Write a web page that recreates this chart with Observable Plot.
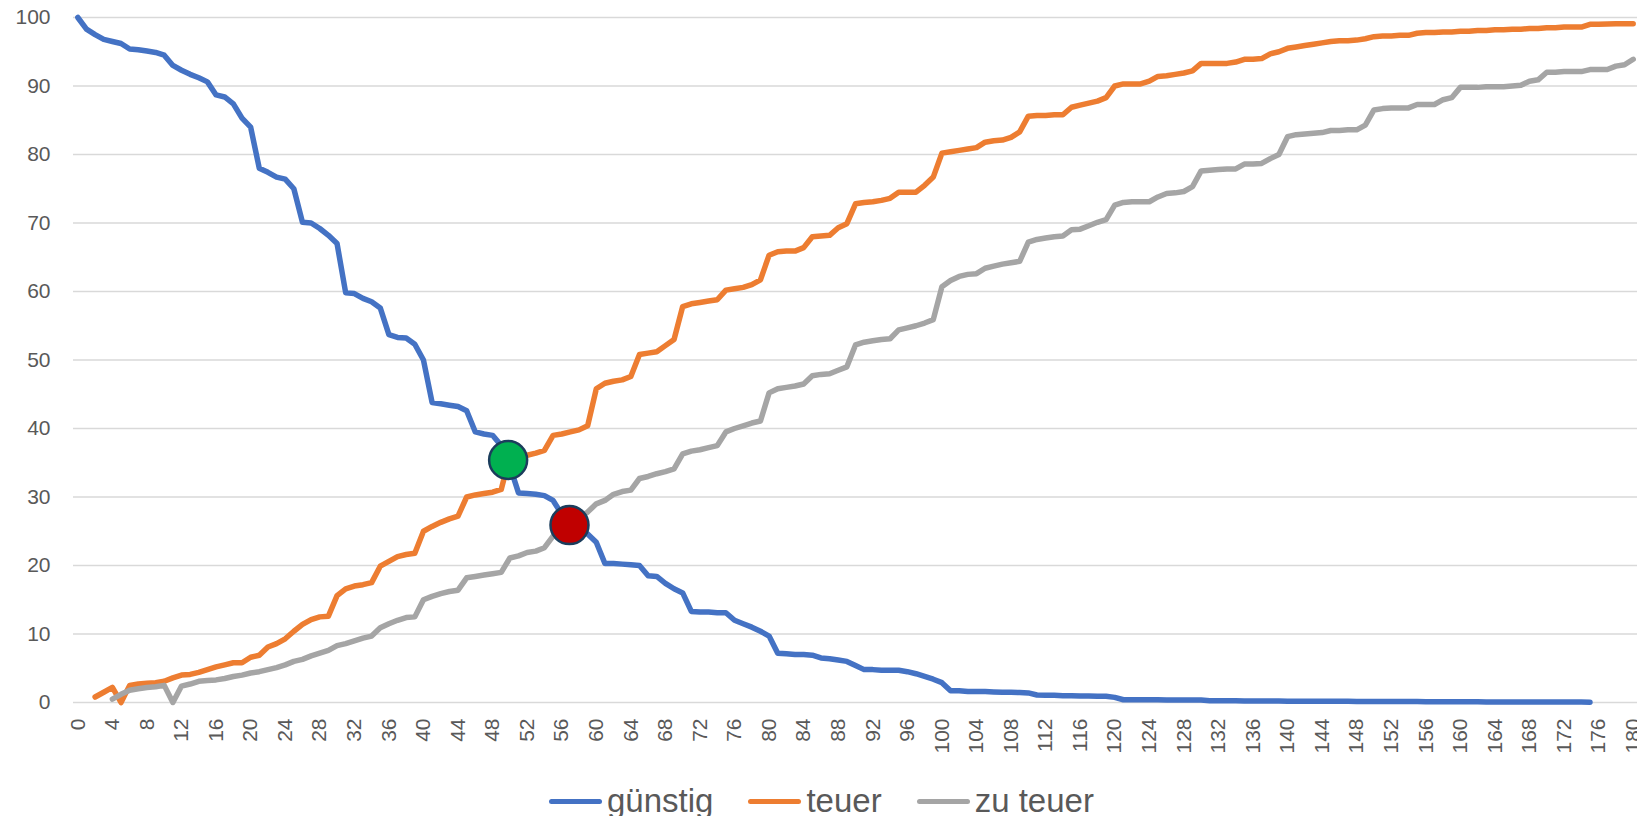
<!DOCTYPE html>
<html>
<head>
<meta charset="utf-8">
<script src="https://cdn.jsdelivr.net/npm/d3@7"></script>
<script src="https://cdn.jsdelivr.net/npm/@observablehq/plot@0.6"></script>
<style>
  html, body { margin: 0; padding: 0; background: #fff; overflow: hidden; }
  #chart svg { display: block; }
  #legend { display: flex; align-items: center; height: 56px; padding-top: 13px; padding-left: 549px;
            font-family: "Liberation Sans", Arial, sans-serif; font-size: 33px; color: #595959; line-height: 56px; }
  .item { display: flex; align-items: center; }
  .swatch { width: 53px; height: 5px; border-radius: 3px; margin-right: 5px; }
  .label { margin-right: 35px; }
</style>
</head>
<body>
<div id="chart"></div>
<div id="legend"></div>
<script>
const seriesNames = ["günstig", "teuer", "zu teuer"];

const guenstig = [
  100, 98.3, 97.5, 96.8, 96.5, 96.2, 95.4, 95.3, 95.1, 94.9,
  94.5, 93, 92.3, 91.7, 91.2, 90.6, 88.7, 88.4, 87.4, 85.3,
  84, 78, 77.4, 76.7, 76.4, 75, 70.1, 70, 69.2, 68.2,
  67, 59.8, 59.7, 59, 58.5, 57.6, 53.7, 53.3, 53.2, 52.3,
  50, 43.8, 43.6, 43.4, 43.2, 42.6, 39.5, 39.2, 39, 37.5,
  34.5, 30.6, 30.5, 30.4, 30.2, 29.5, 27.5, 26, 25.3, 24.6,
  23.4, 20.3, 20.3, 20.2, 20.1, 20, 18.5, 18.4, 17.4, 16.6,
  16, 13.3, 13.2, 13.2, 13.1, 13.1, 12, 11.5, 11, 10.4,
  9.7, 7.2, 7.1, 7, 7, 6.9, 6.5, 6.4, 6.2, 6,
  5.4, 4.8, 4.8, 4.7, 4.7, 4.7, 4.5, 4.2, 3.8, 3.4,
  2.9, 1.7, 1.7, 1.6, 1.6, 1.6, 1.55, 1.5, 1.5, 1.45,
  1.4, 1.1, 1.05, 1.05, 1, 1, 0.95, 0.95, 0.9, 0.9,
  0.75, 0.4, 0.4, 0.4, 0.4, 0.4, 0.38, 0.37, 0.36, 0.35,
  0.35, 0.25, 0.25, 0.24, 0.24, 0.23, 0.23, 0.22, 0.22, 0.21,
  0.2, 0.2, 0.19, 0.19, 0.18, 0.18, 0.17, 0.17, 0.16, 0.16,
  0.15, 0.15, 0.14, 0.14, 0.13, 0.13, 0.12, 0.12, 0.11, 0.11,
  0.1, 0.1, 0.1, 0.09, 0.09, 0.09, 0.08, 0.08, 0.08, 0.07,
  0.07, 0.07, 0.06, 0.06, 0.06, 0.05
];

const teuer = [
  null, null, 0.8, 1.5, 2.2, 0, 2.5, 2.7, 2.8, 2.9,
  3.1, 3.6, 4, 4.1, 4.4, 4.8, 5.2, 5.5, 5.8, 5.8,
  6.6, 6.9, 8.1, 8.6, 9.3, 10.4, 11.4, 12.1, 12.5, 12.6,
  15.6, 16.6, 17, 17.2, 17.5, 19.9, 20.6, 21.3, 21.6, 21.8,
  25, 25.7, 26.3, 26.8, 27.2, 30, 30.3, 30.5, 30.7, 31.1,
  36, 36.1, 36.1, 36.4, 36.8, 39, 39.2, 39.5, 39.8, 40.4,
  45.8, 46.6, 46.9, 47.1, 47.6, 50.8, 51, 51.2, 52.1, 53,
  57.8, 58.2, 58.4, 58.6, 58.8, 60.2, 60.4, 60.6, 61, 61.7,
  65.3, 65.8, 65.9, 65.9, 66.4, 68, 68.1, 68.2, 69.3, 69.9,
  72.8, 73, 73.1, 73.3, 73.6, 74.5, 74.5, 74.5, 75.5, 76.7,
  80.2, 80.4, 80.6, 80.8, 81, 81.8, 82, 82.1, 82.5, 83.3,
  85.6, 85.7, 85.7, 85.8, 85.8, 86.9, 87.2, 87.5, 87.8, 88.3,
  90, 90.3, 90.3, 90.3, 90.7, 91.4, 91.5, 91.7, 91.9, 92.2,
  93.3, 93.3, 93.3, 93.3, 93.5, 93.9, 93.9, 94, 94.7, 95,
  95.5, 95.7, 95.9, 96.1, 96.3, 96.5, 96.6, 96.6, 96.7, 96.9,
  97.2, 97.3, 97.3, 97.4, 97.4, 97.7, 97.8, 97.8, 97.9, 97.9,
  98, 98, 98.1, 98.1, 98.2, 98.2, 98.3, 98.3, 98.4, 98.4,
  98.5, 98.5, 98.6, 98.6, 98.6, 99, 99, 99.05, 99.1, 99.1, 99.1
];

const zuTeuer = [
  null, null, null, null, 0.5, 1.2, 1.8, 2, 2.2, 2.3,
  2.5, 0, 2.4, 2.7, 3.1, 3.2, 3.3, 3.5, 3.8, 4,
  4.3, 4.5, 4.8, 5.1, 5.5, 6, 6.3, 6.8, 7.2, 7.6,
  8.3, 8.6, 9, 9.4, 9.7, 10.9, 11.5, 12, 12.4, 12.5,
  15, 15.5, 15.9, 16.2, 16.4, 18.2, 18.4, 18.6, 18.8, 19,
  21.1, 21.4, 21.9, 22.1, 22.6, 24.3, 25.2, 26.2, 27, 27.8,
  29, 29.5, 30.4, 30.8, 31, 32.7, 33, 33.4, 33.7, 34.1,
  36.3, 36.7, 36.9, 37.2, 37.5, 39.5, 40, 40.4, 40.8, 41.1,
  45.2, 45.8, 46, 46.2, 46.5, 47.7, 47.9, 48, 48.5, 49,
  52.2, 52.6, 52.8, 53, 53.1, 54.4, 54.7, 55, 55.4, 55.9,
  60.7, 61.6, 62.2, 62.5, 62.6, 63.4, 63.7, 64, 64.2, 64.4,
  67.2, 67.6, 67.8, 68, 68.1, 69, 69.1, 69.6, 70.1, 70.5,
  72.6, 73, 73.1, 73.1, 73.1, 73.8, 74.3, 74.4, 74.6, 75.3,
  77.6, 77.7, 77.8, 77.9, 77.9, 78.6, 78.6, 78.7, 79.4, 80,
  82.6, 82.9, 83, 83.1, 83.2, 83.5, 83.5, 83.6, 83.6, 84.3,
  86.5, 86.7, 86.8, 86.8, 86.8, 87.3, 87.3, 87.3, 88, 88.3,
  89.8, 89.8, 89.8, 89.9, 89.9, 89.9, 90, 90.1, 90.7, 90.9,
  92, 92, 92.1, 92.1, 92.1, 92.4, 92.4, 92.4, 92.9, 93.1, 93.9
];

// intersection markers (price, percent)
const markerNames = ["günstig × teuer", "günstig × zu teuer"];
const markerX = [49.8, 56.9];
const markerY = [35.4, 25.9];

const xTicks = [0,4,8,12,16,20,24,28,32,36,40,44,48,52,56,60,64,68,72,76,80,84,88,
  92,96,100,104,108,112,116,120,124,128,132,136,140,144,148,152,156,160,164,168,172,176,180];
const yTicks = [0,10,20,30,40,50,60,70,80,90,100];

const colors = ["#4472C4", "#ED7D31", "#A5A5A5"];
const markerColors = ["#00B050", "#C00000"];

const allSeries = [guenstig, teuer, zuTeuer];
const rows = [];
allSeries.forEach((vals, si) => {
  vals.forEach((v, i) => { if (v != null) rows.push({price: i, pct: v, series: seriesNames[si]}); });
});
const markers = markerNames.map((n, i) => ({name: n, price: markerX[i], pct: markerY[i]}));

const chart = Plot.plot({
  width: 1637,
  height: 760,
  marginLeft: 73,
  marginRight: 0,
  marginTop: 17,
  marginBottom: 58,
  style: {fontFamily: "'Liberation Sans', Arial, sans-serif", fontSize: "21px", color: "#595959", background: "#fff", overflow: "visible"},
  x: {type: "linear", domain: [-0.5, 180.5], label: null},
  y: {domain: [0, 100], label: null},
  color: {domain: seriesNames, range: colors},
  marks: [
    Plot.gridY(yTicks, {stroke: "#d9d9d9", strokeOpacity: 1, strokeWidth: 1.5}),
    Plot.axisY(yTicks, {tickSize: 0, tickPadding: 23, fontSize: 21, fill: "#595959", label: null}),
    Plot.axisX(xTicks, {tickSize: 0, tickPadding: 16, tickRotate: -90, fontSize: 21, fill: "#595959", label: null}),
    Plot.line(rows, {x: "price", y: "pct", z: "series", stroke: "series", strokeWidth: 5.5,
      strokeLinejoin: "round", strokeLinecap: "round"}),
    Plot.dot(markers, {x: "price", y: "pct", r: 19, fill: (d, i) => markerColors[i],
      stroke: "#1b3d5c", strokeWidth: 2.5})
  ]
});
document.getElementById("chart").appendChild(chart);

const legend = document.getElementById("legend");
seriesNames.forEach((name, i) => {
  const item = document.createElement("div");
  item.className = "item";
  const sw = document.createElement("div");
  sw.className = "swatch";
  sw.style.background = colors[i];
  const lb = document.createElement("span");
  lb.className = "label";
  lb.textContent = name;
  item.appendChild(sw);
  item.appendChild(lb);
  legend.appendChild(item);
});
</script>
</body>
</html>
